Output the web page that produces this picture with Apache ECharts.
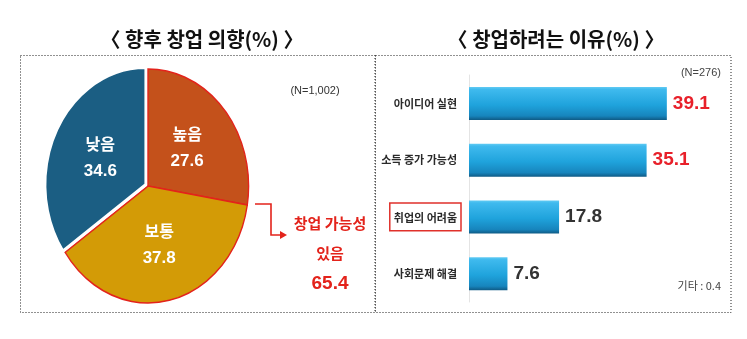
<!DOCTYPE html>
<html>
<head>
<meta charset="utf-8">
<script src="https://cdn.jsdelivr.net/npm/echarts@6/dist/echarts.min.js"></script>
<style>
  html, body { margin: 0; padding: 0; background: #fff; }
  #chart { width: 747px; height: 339px; }
</style>
</head>
<body>
<div id="chart"></div>
<script>
// 향후 창업 의향 (N=1,002)
const intentNames = ['높음', '보통', '낮음'];
const intentValues = [27.6, 37.8, 34.6];
const intentColors = ['#c4511b', '#d39b06', '#1b5e83'];

// 창업하려는 이유 (N=276)
const reasonNames = ['아이디어 실현', '소득 증가 가능성', '취업의 어려움', '사회문제 해결'];
const reasonValues = [39.1, 35.1, 17.8, 7.6];
const highlightedReason = '취업의 어려움';

const KR = '"Noto Sans CJK KR", "Noto Sans", sans-serif';
const NUM = '"Liberation Sans Narrow", "Liberation Sans", Arial, sans-serif';

const chart = echarts.init(document.getElementById('chart'), null, { renderer: 'canvas' });

// pie geometry (drawn slightly narrower than tall)
const pieCx = 148, pieCy = 186, pieR = 117, pieScaleX = 0.86;
const total = intentValues.reduce((a, b) => a + b, 0);

function sliceAngles(i) {
  let start = 0;
  for (let k = 0; k < i; k++) start += intentValues[k];
  const a0 = -Math.PI / 2 + start / total * Math.PI * 2;
  const a1 = a0 + intentValues[i] / total * Math.PI * 2;
  return [a0, a1];
}

function renderSlice(params, api) {
  const i = params.dataIndex;
  const [a0, a1] = sliceAngles(i);
  const mid = (a0 + a1) / 2;
  const isLow = i === 2;
  // the "낮음" slice is pulled out a little
  const off = isLow ? 3 : 0;
  const ox = Math.cos(mid) * off * pieScaleX;
  const oy = Math.sin(mid) * off;
  const lx = pieCx + Math.cos(mid) * pieR * 0.51 * pieScaleX + ox;
  const ly = pieCy + Math.sin(mid) * pieR * 0.51 + oy;
  return {
    type: 'group',
    children: [
      {
        type: 'group',
        x: pieCx + ox, y: pieCy + oy,
        scaleX: pieScaleX, scaleY: 1,
        z2: isLow ? 10 : 1,
        children: [{
          type: 'sector',
          shape: { cx: 0, cy: 0, r: pieR, r0: 0, startAngle: a0, endAngle: a1, clockwise: true },
          style: {
            fill: intentColors[i],
            stroke: isLow ? '#ffffff' : '#e3231b',
            lineWidth: isLow ? 3 : 1.6
          },
          z2: isLow ? 10 : 1
        }]
      },
      {
        type: 'text',
        z2: 20,
        style: {
          text: intentNames[i], x: lx, y: ly - 13,
          fill: '#ffffff', fontSize: 16, fontWeight: 'bold', fontFamily: KR,
          align: 'center', verticalAlign: 'middle'
        }
      },
      {
        type: 'text',
        z2: 20,
        style: {
          text: api.value(0).toFixed(1), x: lx, y: ly + 14,
          fill: '#ffffff', fontSize: 17, fontWeight: 'bold', fontFamily: NUM,
          align: 'center', verticalAlign: 'middle'
        }
      }
    ]
  };
}

const positive = (intentValues[0] + intentValues[1]).toFixed(1);

const option = {
  backgroundColor: '#ffffff',
  animation: false,
  title: [
    {
      text: '〈 향후 창업 의향(%) 〉', left: 197, top: 24, textAlign: 'center',
      textStyle: { fontFamily: KR, fontSize: 20, fontWeight: 'bold', color: '#111' }
    },
    {
      text: '〈 창업하려는 이유(%) 〉', left: 551, top: 24, textAlign: 'center',
      textStyle: { fontFamily: KR, fontSize: 20, fontWeight: 'bold', color: '#111' }
    }
  ],
  grid: { left: 469, right: 25, top: 75, height: 227, containLabel: false },
  xAxis: { type: 'value', min: 0, max: 50, show: false },
  yAxis: {
    type: 'category',
    data: reasonNames,
    inverse: true,
    axisTick: { show: false },
    axisLine: { show: true, lineStyle: { color: '#e4e4e4', width: 1 } },
    axisLabel: {
      margin: 8,
      formatter: v => v === highlightedReason ? '{box|' + v + '}' : '{plain|' + v + '}',
      rich: {
        plain: { fontFamily: KR, fontSize: 11, fontWeight: 'bold', color: '#2a2a2a', padding: [0, 4, 0, 4] },
        box: {
          fontFamily: KR, fontSize: 11, fontWeight: 'bold', color: '#2a2a2a',
          borderColor: '#e0312b', borderWidth: 1.5, padding: [9, 4, 8, 4]
        }
      }
    }
  },
  series: [
    {
      type: 'bar',
      data: reasonValues.map((v, i) => ({
        value: v,
        label: { color: i < 2 ? '#e8202a' : '#333333' }
      })),
      barWidth: 33,
      itemStyle: {
        color: new echarts.graphic.LinearGradient(0, 0, 0, 1, [
          { offset: 0, color: '#62cbf3' },
          { offset: 0.08, color: '#3fbaee' },
          { offset: 0.55, color: '#1fa3dc' },
          { offset: 0.88, color: '#1785bd' },
          { offset: 1, color: '#0f5b86' }
        ])
      },
      label: {
        show: true, position: 'right', distance: 6,
        fontFamily: NUM, fontSize: 19, fontWeight: 'bold',
        formatter: p => p.value.toFixed(1)
      }
    },
    {
      type: 'custom',
      coordinateSystem: 'none',
      renderItem: renderSlice,
      data: intentValues.map(v => [v])
    }
  ],
  graphic: [
    // panel frames
    {
      type: 'rect', shape: { x: 20.5, y: 55.5, width: 354.5, height: 257 },
      style: { fill: null, stroke: '#222', lineWidth: 1, lineDash: [1, 2] }, silent: true
    },
    {
      type: 'rect', shape: { x: 375.5, y: 55.5, width: 355.5, height: 257 },
      style: { fill: null, stroke: '#222', lineWidth: 1, lineDash: [1, 2] }, silent: true
    },
    // sample sizes
    {
      type: 'text', x: 315, y: 91,
      style: { text: '(N=1,002)', fontFamily: NUM, fontSize: 11, fill: '#333', align: 'center', verticalAlign: 'middle' }
    },
    {
      type: 'text', x: 721, y: 73,
      style: { text: '(N=276)', fontFamily: NUM, fontSize: 11, fill: '#444', align: 'right', verticalAlign: 'middle' }
    },
    {
      type: 'text', x: 721, y: 286,
      style: { text: '기타 : 0.4', fontFamily: KR, fontSize: 11, fill: '#444', align: 'right', verticalAlign: 'middle' }
    },
    // callout for 높음 + 보통
    {
      type: 'polyline', shape: { points: [[255, 204], [271, 204], [271, 235], [281, 235]] },
      style: { stroke: '#e3231b', lineWidth: 1.6, fill: null }
    },
    {
      type: 'polygon', shape: { points: [[280, 231], [287, 235], [280, 239]] },
      style: { fill: '#e3231b' }
    },
    {
      type: 'text', x: 330, y: 223,
      style: { text: '창업 가능성', fontFamily: KR, fontSize: 15, fontWeight: 'bold', fill: '#e3231b', align: 'center', verticalAlign: 'middle' }
    },
    {
      type: 'text', x: 330, y: 253,
      style: { text: '있음', fontFamily: KR, fontSize: 15, fontWeight: 'bold', fill: '#e3231b', align: 'center', verticalAlign: 'middle' }
    },
    {
      type: 'text', x: 330, y: 284,
      style: { text: positive, fontFamily: NUM, fontSize: 19, fontWeight: 'bold', fill: '#e3231b', align: 'center', verticalAlign: 'middle' }
    }
  ]
};

chart.setOption(option);
</script>
</body>
</html>
